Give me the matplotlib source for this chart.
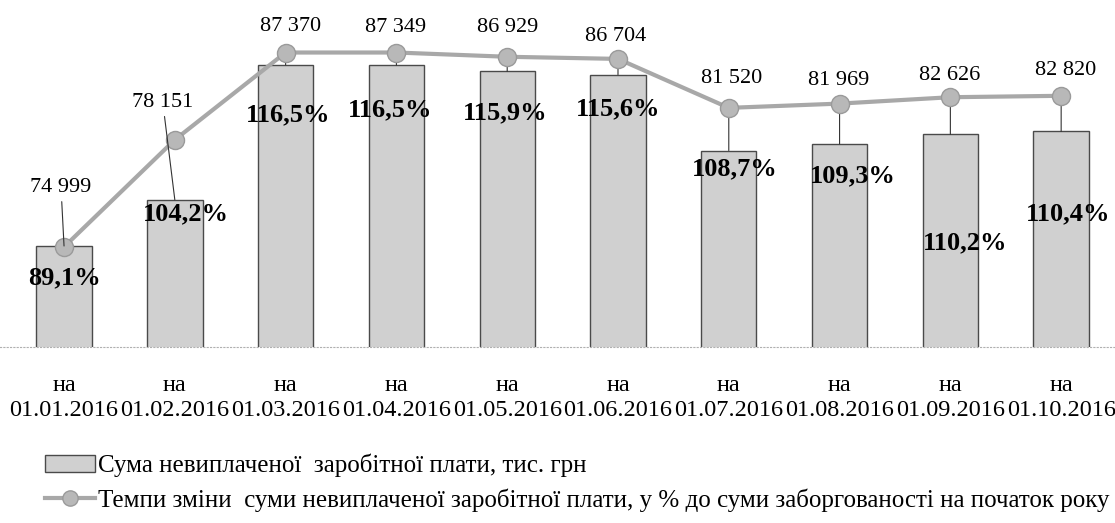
import numpy as np
import matplotlib
matplotlib.use("Agg")
import matplotlib.pyplot as plt
from matplotlib.patches import Patch
from matplotlib.lines import Line2D

plt.rcParams['font.family'] = ['Liberation Serif', 'DejaVu Serif']

# data
dates = ['01.01.2016', '01.02.2016', '01.03.2016', '01.04.2016', '01.05.2016',
         '01.06.2016', '01.07.2016', '01.08.2016', '01.09.2016', '01.10.2016']
amounts = [74999, 78151, 87370, 87349, 86929, 86704, 81520, 81969, 82626, 82820]
pct = [89.1, 104.2, 116.5, 116.5, 115.9, 115.6, 108.7, 109.3, 110.2, 110.4]
bar_name = 'Сума невиплаченої  заробітної плати, тис. грн'
line_name = 'Темпи зміни  суми невиплаченої заробітної плати, у % до суми заборгованості на початок року'

# label placement (pixels from bar top), tuned by eye
amt_off = [(-3, 58), (-12, 97), (5, 38), (-1, 38), (0, 44), (-2, 38), (3, 72), (-1, 63), (-1, 59), (4, 61)]
pct_off = [(0, -32), (11, -14), (3, -50), (-6, -45), (-2, -41), (0, -34), (6, -18), (13, -32), (15, -108), (7, -82)]

x = np.arange(len(dates))

fig = plt.figure(figsize=(11.15, 5.23), dpi=100)
ax = fig.add_axes([0, 0.3365, 1, 0.6635])
ax2 = ax.twinx()

bar_c = '#d0d0d0'
line_c = '#a8a8a8'
ax.bar(x, amounts, width=0.5, color=bar_c, edgecolor='#4a4a4a', linewidth=1, zorder=2)
ax.set_ylim(68100, 91800)
ax.set_xlim(-0.578, 9.486)
ax2.set_ylim(75, 123.9)

ax2.plot(x, pct, color=line_c, lw=3, marker='o', ms=13, mfc='#b8b8b8', mec='#9a9a9a', zorder=5)

for a in (ax, ax2):
    for s in a.spines.values():
        s.set_visible(False)
    a.set_yticks([])
ax.spines['bottom'].set_visible(True)
ax.spines['bottom'].set_linestyle((0, (1, 2)))
ax.spines['bottom'].set_color('#b0b0b0')

ax.set_xticks(x)
ax.set_xticklabels(['на\n' + d for d in dates], fontsize=17.5, linespacing=1.25)
ax.tick_params(axis='x', length=0, pad=20)

# leader lines from markers down to bar tops
for i in range(2, len(x)):
    ax2.annotate('', xy=(x[i], pct[i]), xytext=(x[i], amounts[i]), textcoords=ax.transData,
                 arrowprops=dict(arrowstyle='-', color='#333333', lw=0.8, shrinkA=0, shrinkB=0), zorder=3)

for i in range(len(x)):
    dx, dy = amt_off[i]
    props = None
    if i < 2:
        props = dict(arrowstyle='-', color='#333333', lw=0.8, shrinkA=1, shrinkB=0)
    ax2.annotate(f"{amounts[i]:,}".replace(',', ' '), xy=(x[i], amounts[i]), xycoords=ax.transData,
                 xytext=(dx, dy), textcoords='offset pixels', ha='center', va='center',
                 fontsize=16, arrowprops=props, zorder=6)
    dx, dy = pct_off[i]
    ax2.annotate(f"{pct[i]:.1f}%".replace('.', ','), xy=(x[i], amounts[i]), xycoords=ax.transData,
                 xytext=(dx, dy), textcoords='offset pixels', ha='center', va='center',
                 fontsize=19, fontweight='bold', zorder=6)

handles = [Patch(facecolor=bar_c, edgecolor='#4a4a4a', linewidth=1),
           Line2D([], [], color=line_c, lw=3, marker='o', ms=11, mfc='#b8b8b8', mec='#9a9a9a')]
fig.legend(handles, [bar_name, line_name], loc='center left', bbox_to_anchor=(0.025, 0.077),
           frameon=False, fontsize=18, handlelength=2.0, handletextpad=0.1, labelspacing=0.45,
           borderpad=0.2)

fig.savefig('out.png', dpi=100)
